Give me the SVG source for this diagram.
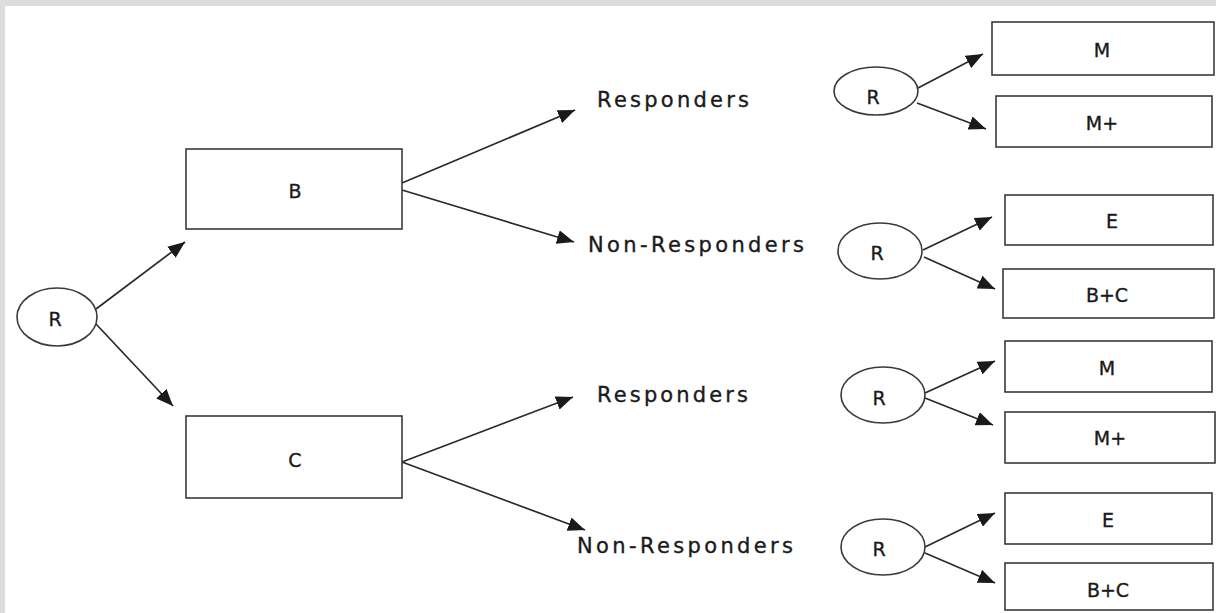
<svg xmlns="http://www.w3.org/2000/svg" width="1216" height="613" viewBox="0 0 1216 613">
<defs>
<style>
.shape{fill:#fff;stroke:#3a3a3a;stroke-width:1.6}
.conn{stroke:#2a2a2a;stroke-width:1.7;fill:none;marker-end:url(#ah)}
.t{font-family:"DejaVu Sans","Liberation Sans",sans-serif;font-size:19px;fill:#1a1a1a;stroke:#1a1a1a;stroke-width:0.35;text-anchor:middle}
.lbl{font-family:"DejaVu Sans","Liberation Sans",sans-serif;font-size:21px;fill:#1a1a1a;stroke:#1a1a1a;stroke-width:0.35}
</style>
<marker id="ah" markerUnits="userSpaceOnUse" markerWidth="18" markerHeight="14" refX="17" refY="7" orient="auto">
<path d="M0,0 L17,7 L0,14 z" fill="#1a1a1a"/>
</marker>
</defs>
<rect x="0" y="0" width="1216" height="613" fill="#dcdcdc"/>
<rect x="5" y="6" width="1211" height="607" fill="#fff"/>
<g id="connectors">
<line class="conn" x1="96" y1="309" x2="185" y2="242"/>
<line class="conn" x1="96" y1="324" x2="173" y2="406"/>
<line class="conn" x1="402" y1="183" x2="575" y2="110"/>
<line class="conn" x1="402" y1="190" x2="574" y2="242"/>
<line class="conn" x1="402" y1="462" x2="573" y2="397"/>
<line class="conn" x1="402" y1="462" x2="585" y2="530"/>
<line class="conn" x1="918" y1="88" x2="983" y2="54"/>
<line class="conn" x1="917" y1="103" x2="986" y2="129"/>
<line class="conn" x1="923" y1="250" x2="992" y2="217"/>
<line class="conn" x1="924" y1="257" x2="995" y2="289"/>
<line class="conn" x1="925" y1="393" x2="995" y2="361"/>
<line class="conn" x1="925" y1="398" x2="993" y2="425"/>
<line class="conn" x1="925" y1="547" x2="995" y2="513"/>
<line class="conn" x1="925" y1="553" x2="995" y2="583"/>
</g>
<g id="r0"><ellipse class="shape" cx="57" cy="317" rx="40" ry="29"/><text class="t" x="55" y="326">R</text></g>
<g id="b"><rect class="shape" x="186" y="149" width="216" height="80"/><text class="t" x="295" y="198">B</text></g>
<g id="c"><rect class="shape" x="186" y="416" width="216" height="82"/><text class="t" x="295" y="467">C</text></g>
<g id="resp1"><text class="lbl" x="597" y="107" textLength="152" lengthAdjust="spacing">Responders</text></g>
<g id="nonresp1"><text class="lbl" x="588" y="252" textLength="216" lengthAdjust="spacing">Non-Responders</text></g>
<g id="resp2"><text class="lbl" x="597" y="402" textLength="151" lengthAdjust="spacing">Responders</text></g>
<g id="nonresp2"><text class="lbl" x="577" y="553" textLength="216" lengthAdjust="spacing">Non-Responders</text></g>
<g id="r1"><ellipse class="shape" cx="876" cy="91" rx="42" ry="24"/><text class="t" x="873" y="104">R</text></g>
<g id="m1"><rect class="shape" x="992" y="22" width="222" height="53"/><text class="t" x="1102" y="57">M</text></g>
<g id="mp1"><rect class="shape" x="996" y="96" width="216" height="51"/><text class="t" x="1102" y="130">M+</text></g>
<g id="r2"><ellipse class="shape" cx="880" cy="251" rx="42" ry="28"/><text class="t" x="877" y="260">R</text></g>
<g id="e1"><rect class="shape" x="1005" y="195" width="208" height="50"/><text class="t" x="1112" y="228">E</text></g>
<g id="bc1"><rect class="shape" x="1003" y="269" width="211" height="49"/><text class="t" x="1107" y="302">B+C</text></g>
<g id="r3"><ellipse class="shape" cx="883" cy="395" rx="42" ry="28"/><text class="t" x="879" y="405">R</text></g>
<g id="m2"><rect class="shape" x="1005" y="341" width="207" height="51"/><text class="t" x="1107" y="375">M</text></g>
<g id="mp2"><rect class="shape" x="1005" y="412" width="210" height="51"/><text class="t" x="1110" y="445">M+</text></g>
<g id="r4"><ellipse class="shape" cx="883" cy="547" rx="42" ry="28"/><text class="t" x="879" y="556">R</text></g>
<g id="e2"><rect class="shape" x="1005" y="493" width="207" height="51"/><text class="t" x="1108" y="527">E</text></g>
<g id="bc2"><rect class="shape" x="1005" y="563" width="208" height="47"/><text class="t" x="1108" y="597">B+C</text></g>
</svg>
